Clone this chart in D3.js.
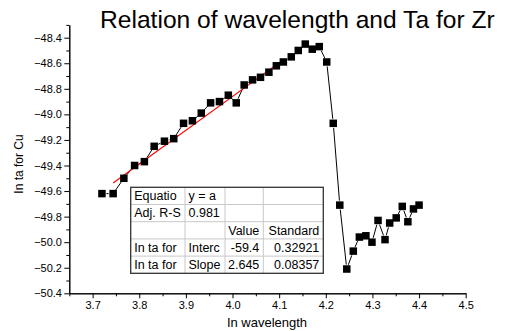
<!DOCTYPE html>
<html>
<head>
<meta charset="utf-8">
<script src="https://cdn.jsdelivr.net/npm/d3@7"></script>
<style>
  body { margin: 0; background: #fff; }
  text { font-family: "Liberation Sans", Arial, sans-serif; }
</style>
</head>
<body>
<script>
// data
var xVals = [3.720, 3.744, 3.767, 3.790, 3.811, 3.832, 3.854, 3.874, 3.895, 3.914,
             3.933, 3.953, 3.972, 3.991, 4.008, 4.025, 4.043, 4.060, 4.078, 4.094,
             4.109, 4.126, 4.141, 4.156, 4.171, 4.186, 4.202, 4.216, 4.230, 4.245,
             4.259, 4.272, 4.286, 4.299, 4.312, 4.327, 4.337, 4.351, 4.364, 4.376,
             4.388, 4.400];
var yVals = [-49.62, -49.62, -49.50, -49.40, -49.37, -49.25, -49.21, -49.19, -49.07, -49.05,
             -48.99, -48.91, -48.90, -48.85, -48.91, -48.77, -48.73, -48.71, -48.67, -48.62,
             -48.59, -48.55, -48.50, -48.45, -48.49, -48.47, -48.59, -49.07, -49.71, -50.21,
             -50.07, -49.96, -49.95, -50.00, -49.83, -49.98, -49.85, -49.81, -49.72, -49.84,
             -49.74, -49.71];

// linear fit y = a + b*x over points 2..21
var fitA = -59.44;
var fitB = 2.645;
var fitRange = [1, 20];

var xTicks = [3.7, 3.8, 3.9, 4.0, 4.1, 4.2, 4.3, 4.4, 4.5];
var yTicks = [-50.4, -50.2, -50.0, -49.8, -49.6, -49.4, -49.2, -49.0, -48.8, -48.6, -48.4];

var tableRows = [
  ["Equatio", "y = a", "", ""],
  ["Adj. R-S", "0.981", "", ""],
  ["", "", "Value", "Standard"],
  ["In ta for", "Interc", "-59.4", "0.32921"],
  ["In ta for", "Slope", "2.645", "0.08357"]
];

var w = 509, h = 331;

var svg = d3.select("body").append("svg")
  .attr("width", w)
  .attr("height", h);

var x = d3.scaleLinear().domain([3.65, 4.5]).range([69.3, 465.7]);
var y = d3.scaleLinear().domain([-50.4, -48.3]).range([293.3, 24.9]);

// minor ticks
var xMinor = d3.range(3.65, 4.5, 0.1).map(function(d) { return +d.toFixed(2); });
var yMinor = d3.range(-50.3, -48.2, 0.2).map(function(d) { return +d.toFixed(1); });

svg.append("g")
  .attr("transform", "translate(0," + y.range()[0] + ")")
  .call(d3.axisBottom(x).tickValues(xMinor).tickSize(3).tickSizeOuter(0).tickFormat(""));
svg.append("g")
  .attr("transform", "translate(" + x.range()[0] + ",0)")
  .call(d3.axisLeft(y).tickValues(yMinor).tickSize(3).tickSizeOuter(0).tickFormat(""));

var xAxis = svg.append("g")
  .attr("transform", "translate(0," + y.range()[0] + ")")
  .call(d3.axisBottom(x).tickValues(xTicks).tickSize(5).tickPadding(2.5)
    .tickSizeOuter(0).tickFormat(d3.format(".1f")));
var yAxis = svg.append("g")
  .attr("transform", "translate(" + x.range()[0] + ",0)")
  .call(d3.axisLeft(y).tickValues(yTicks).tickSize(5).tickPadding(2.3)
    .tickSizeOuter(0).tickFormat(d3.format(".1f")));

svg.selectAll(".tick text")
  .style("font-size", "11px")
  .style("font-family", "'Liberation Sans', Arial, sans-serif")
  .attr("fill", "#000");
svg.selectAll(".domain, .tick line").attr("stroke", "#000");

// titles
svg.append("text")
  .attr("x", 100)
  .attr("y", 28)
  .style("font-size", "24.6px")
  .text("Relation of wavelength and Ta for Zr");

svg.append("text")
  .attr("x", 267)
  .attr("y", 327)
  .attr("text-anchor", "middle")
  .style("font-size", "13px")
  .text("In wavelength");

svg.append("text")
  .attr("transform", "translate(23,164) rotate(-90)")
  .attr("text-anchor", "middle")
  .style("font-size", "12px")
  .text("In ta for Cu");

// data
var pts = xVals.map(function(d, i) { return [x(d), y(yVals[i])]; });

// connecting line, with a little gap around each symbol
var gap = 4.5;
var segs = [];
for (var i = 0; i < pts.length - 1; i++) {
  var p = pts[i], q = pts[i + 1];
  var dx = q[0] - p[0], dy = q[1] - p[1];
  var len = Math.sqrt(dx * dx + dy * dy);
  if (len > 2 * gap) {
    var ux = dx / len, uy = dy / len;
    segs.push([p[0] + ux * gap, p[1] + uy * gap, q[0] - ux * gap, q[1] - uy * gap]);
  }
}
svg.append("g").selectAll("line")
  .data(segs)
  .enter()
  .append("line")
  .attr("x1", function(d) { return d[0]; })
  .attr("y1", function(d) { return d[1]; })
  .attr("x2", function(d) { return d[2]; })
  .attr("y2", function(d) { return d[3]; })
  .attr("stroke", "#000")
  .attr("stroke-width", 1);

// fit line
var fx = [xVals[fitRange[0]], xVals[fitRange[1]]];
svg.append("line")
  .attr("x1", x(fx[0]))
  .attr("y1", y(fitA + fitB * fx[0]))
  .attr("x2", x(fx[1]))
  .attr("y2", y(fitA + fitB * fx[1]))
  .attr("stroke", "#f00")
  .attr("stroke-width", 1.2);

var s = 7.5;
svg.append("g").selectAll("rect")
  .data(pts)
  .enter()
  .append("rect")
  .attr("x", function(d) { return d[0] - s / 2; })
  .attr("y", function(d) { return d[1] - s / 2; })
  .attr("width", s)
  .attr("height", s)
  .attr("fill", "#000");

// fit results table
var colX = [130.7, 185, 225, 263.3, 323.3];
var rowTop = 187.3, rowH = 17.2;
var tbl = svg.append("g");
tbl.append("rect")
  .attr("x", colX[0]).attr("y", rowTop)
  .attr("width", colX[4] - colX[0]).attr("height", rowH * tableRows.length)
  .attr("fill", "#fff");
for (var r = 1; r < tableRows.length; r++) {
  tbl.append("line")
    .attr("x1", colX[0]).attr("x2", colX[4])
    .attr("y1", rowTop + r * rowH).attr("y2", rowTop + r * rowH)
    .attr("stroke", "#c8c8c8");
}
for (var c = 1; c < 4; c++) {
  tbl.append("line")
    .attr("x1", colX[c]).attr("x2", colX[c])
    .attr("y1", rowTop).attr("y2", rowTop + rowH * tableRows.length)
    .attr("stroke", "#c8c8c8");
}
tbl.append("rect")
  .attr("x", colX[0]).attr("y", rowTop)
  .attr("width", colX[4] - colX[0]).attr("height", rowH * tableRows.length)
  .attr("fill", "none")
  .attr("stroke", "#333")
  .attr("stroke-width", 1.3);

tableRows.forEach(function(row, ri) {
  row.forEach(function(txt, ci) {
    if (!txt) return;
    var right = ci >= 2;
    tbl.append("text")
      .attr("x", right ? colX[ci + 1] - 4 : colX[ci] + 3.5)
      .attr("y", rowTop + ri * rowH + 12.8)
      .attr("text-anchor", right ? "end" : "start")
      .style("font-size", "12.5px")
      .text(txt);
  });
});
</script>
</body>
</html>
